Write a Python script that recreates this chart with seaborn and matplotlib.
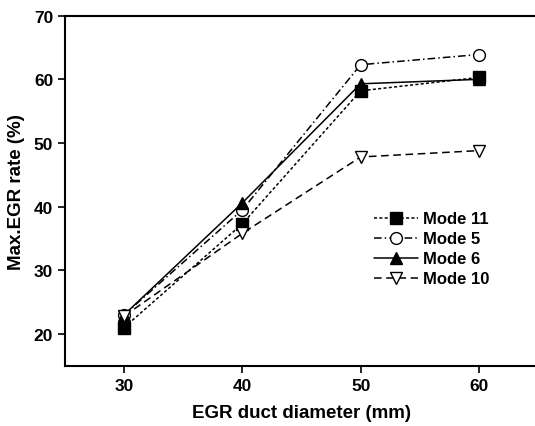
import matplotlib
matplotlib.use("Agg")
import matplotlib.pyplot as plt
import seaborn as sns
import pandas as pd

diameter = [30, 40, 50, 60]
mode11 = [21.0, 37.3, 58.2, 60.3]
mode5 = [23.0, 39.5, 62.3, 63.9]
mode6 = [23.0, 40.6, 59.3, 60.0]
mode10 = [22.8, 35.8, 47.8, 48.8]

x_ticks = [30, 40, 50, 60]
y_ticks = [20, 30, 40, 50, 60, 70]

sns.set_style("white")
plt.rcParams['font.family'] = ['Liberation Sans', 'DejaVu Sans']
plt.rcParams['font.weight'] = 'bold'
plt.rcParams['text.color'] = 'black'
plt.rcParams['axes.labelcolor'] = 'black'
plt.rcParams['xtick.color'] = 'black'
plt.rcParams['ytick.color'] = 'black'

fig = plt.figure(figsize=(5.35, 4.27), dpi=100)
ax = fig.add_axes([65/535, 1 - 366.7/427, (538 - 65)/535, (366.7 - 16.7)/427])

styles = [
    ("Mode 11", mode11, "s", (0, (2, 1.5)), "black"),
    ("Mode 5", mode5, "o", (0, (5, 2, 1, 2)), "white"),
    ("Mode 6", mode6, "^", "-", "black"),
    ("Mode 10", mode10, "v", (0, (5, 3)), "white"),
]
for name, vals, mk, ls, fc in styles:
    df = pd.DataFrame({"d": diameter, "v": vals})
    sns.lineplot(data=df, x="d", y="v", ax=ax, color="black", linewidth=1.1,
                 linestyle=ls, marker=mk, markersize=8.5, markerfacecolor=fc,
                 markeredgecolor="black", markeredgewidth=1.0, label=name)

ax.set_xlim(25, 65)
ax.set_ylim(15, 70)
ax.set_xticks(x_ticks)
ax.set_yticks(y_ticks)
ax.tick_params(axis="both", direction="out", length=5, width=1.2, labelsize=12.5,
               bottom=True, left=True, top=False, right=False, colors="black")
for lbl in ax.get_xticklabels() + ax.get_yticklabels():
    lbl.set_fontweight("bold")
for sp in ax.spines.values():
    sp.set_linewidth(1.5)
    sp.set_color("black")
ax.spines["right"].set_visible(False)

ax.set_xlabel("EGR duct diameter (mm)", fontsize=13.5, fontweight="bold", labelpad=8)
ax.set_ylabel("Max.EGR rate (%)", fontsize=13.5, fontweight="bold", labelpad=6)

leg = ax.legend(loc="upper left", bbox_to_anchor=(0.64, 0.46), frameon=False,
                fontsize=12, handlelength=2.6, handletextpad=0.3, labelspacing=0.3,
                borderaxespad=0)
for t in leg.get_texts():
    t.set_fontweight("bold")
    t.set_color("black")

fig.savefig("out.png", dpi=100)
